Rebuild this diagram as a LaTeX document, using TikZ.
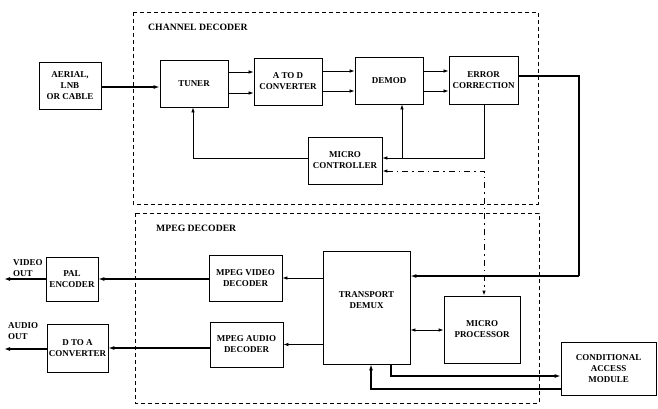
\documentclass[tikz,border=0pt]{standalone}
\usepackage{fontspec}
\setmainfont{Liberation Serif}
\usetikzlibrary{arrows.meta}
\begin{document}
\begin{tikzpicture}[x=1pt,y=-1pt,
  box/.style={draw,line width=0.8pt,align=center,inner sep=1pt,font=\fontsize{9}{11}\selectfont\bfseries},
  lbl/.style={align=left,inner sep=0pt,anchor=west,font=\fontsize{9}{11}\selectfont\bfseries},
  glbl/.style={inner sep=0pt,anchor=west,font=\fontsize{9.7}{11}\selectfont\bfseries},
  grp/.style={draw,line width=0.8pt,dash pattern=on 4pt off 3pt},
  arr/.style={line width=0.7pt,-{Latex[length=5pt,width=3.5pt]}},
  tarr/.style={line width=1.5pt,-{Latex[length=6pt,width=4pt]}},
  dd/.style={line width=1pt,dash pattern=on 6pt off 4pt on 1.5pt off 4pt}]
\useasboundingbox (0,0) rectangle (658,408);
% groups
\draw[grp] (133,12) rectangle (538,204);
\draw[grp] (135,213) rectangle (539,403);
\node[glbl] (chl) at (148,27) {CHANNEL DECODER};
\node[glbl] (mpl) at (156,228) {MPEG DECODER};
% nodes
\node[box,minimum width=62pt,minimum height=47pt] (aer) at (70,85.5) {AERIAL,\\LNB\\OR CABLE};
\node[box,minimum width=68pt,minimum height=47pt] (tun) at (194,83.5) {TUNER};
\node[box,minimum width=68pt,minimum height=47pt] (atd) at (288,81.5) {A TO D\\CONVERTER};
\node[box,minimum width=68pt,minimum height=47pt] (dem) at (389,80.5) {DEMOD};
\node[box,minimum width=69pt,minimum height=48pt] (err) at (483.5,80) {ERROR\\CORRECTION};
\node[box,minimum width=74pt,minimum height=47pt] (mct) at (345,160.5) {MICRO\\CONTROLLER};
\node[box,minimum width=87pt,minimum height=113pt] (tdm) at (366.5,307.5) {TRANSPORT\\DEMUX\\[4pt]};
\node[box,minimum width=73pt,minimum height=46pt] (vdc) at (245.5,278) {MPEG VIDEO\\DECODER};
\node[box,minimum width=73pt,minimum height=45pt] (adc) at (246.5,344.5) {MPEG AUDIO\\DECODER};
\node[box,minimum width=52pt,minimum height=44pt] (pal) at (72,279) {PAL\\ENCODER};
\node[box,minimum width=61pt,minimum height=48pt] (dta) at (77.5,348) {D TO A\\CONVERTER};
\node[box,minimum width=76pt,minimum height=67pt] (mpr) at (482,329.5) {MICRO\\PROCESSOR};
\node[box,minimum width=95pt,minimum height=53pt] (cam) at (608.5,368.5) {CONDITIONAL\\ACCESS\\MODULE};
\node[lbl] (vo) at (13,268) {VIDEO\\OUT};
\node[lbl] (ao) at (8,331.5) {AUDIO\\OUT};
% coordinates
\coordinate (vout) at (4,281);
\coordinate (aout) at (4,349);
\coordinate (e1) at (579,76);
\coordinate (e2) at (579,276);
\coordinate (fb1) at (193,158);
\coordinate (fb2) at (484,158);
\coordinate (fb3) at (402,158);
\coordinate (dd1) at (484,171);
\coordinate (ca1) at (391,376);
\coordinate (ca2) at (371,389);
% channel decoder arrows
\draw[tarr] (aer.east |- 0,87) -- (tun.west |- 0,87);
\draw[arr] (tun.east |- 0,72) -- (atd.west |- 0,72);
\draw[arr] (tun.east |- 0,93) -- (atd.west |- 0,93);
\draw[arr] (atd.east |- 0,71) -- (dem.west |- 0,71);
\draw[arr] (atd.east |- 0,91) -- (dem.west |- 0,91);
\draw[arr] (dem.east |- 0,71) -- (err.west |- 0,71);
\draw[arr] (dem.east |- 0,91) -- (err.west |- 0,91);
% feedback
\draw[arr] (mct.west |- fb1) -- (fb1) -- (tun.south -| fb1);
\draw[arr] (err.south -| fb2) -- (fb2) -- (mct.east |- fb2);
\draw[arr] (fb3) -- (dem.south -| fb3);
% dash-dot
\draw[dd,{Latex[length=5pt,width=3.5pt]}-{Latex[length=5pt,width=3.5pt]}] (mct.east |- dd1) -- (dd1) -- (mpr.north -| dd1);
% error correction to transport
\draw[line width=1.3pt] (err.east |- e1) -- (e1) -- (e2);
\draw[tarr] (e2) -- (tdm.east |- e2);
% mpeg
\draw[arr] (tdm.west |- vdc) -- (vdc.east);
\draw[arr] (tdm.west |- adc) -- (adc.east);
\draw[tarr,line width=1.1pt] (vdc.west |- pal) -- (pal.east);
\draw[tarr,line width=1.1pt] (adc.west |- dta) -- (dta.east);
\draw[tarr] (pal.west) -- (pal.west -| vout);
\draw[tarr] (dta.west |- aout) -- (aout);
\draw[line width=0.8pt,{Latex[length=5pt,width=3.5pt]}-{Latex[length=5pt,width=3.5pt]}] (tdm.east |- 0,330) -- (mpr.west |- 0,330);
\draw[tarr,line width=1.1pt] (tdm.south -| ca1) -- (ca1) -- (cam.west |- ca1);
\draw[tarr,line width=1.1pt] (cam.west |- ca2) -- (ca2) -- (tdm.south -| ca2);
\end{tikzpicture}
\end{document}
